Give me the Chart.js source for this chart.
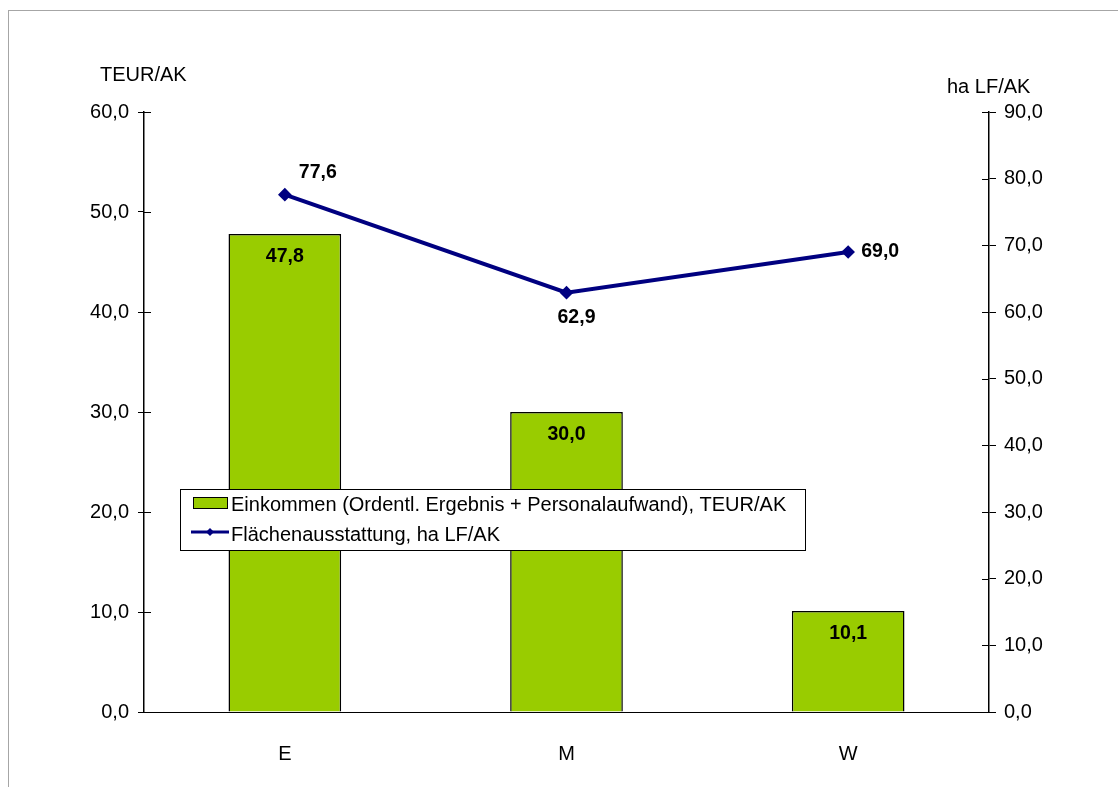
<!doctype html>
<html>
<head>
<meta charset="utf-8">
<title>Einkommen und Flächenausstattung</title>
<script src="https://cdn.jsdelivr.net/npm/chart.js@4/dist/chart.umd.min.js"></script>
<style>
  html, body { margin: 0; padding: 0; background: #fff; overflow: hidden; }
  #wrap { position: relative; width: 1118px; height: 787px; }
</style>
</head>
<body>
<div id="wrap"><canvas id="canvas" width="1118" height="787"></canvas></div>
<script>
// Regionen
var categories = ['E', 'M', 'W'];
// Einkommen in TEUR/AK (linke Achse)
var einkommen = [47.8, 30.0, 10.1];
// Flächenausstattung in ha LF/AK (rechte Achse)
var flaeche = [77.6, 62.9, 69.0];

var labelEinkommen = 'Einkommen (Ordentl. Ergebnis + Personalaufwand), TEUR/AK';
var labelFlaeche = 'Flächenausstattung, ha LF/AK';

// Verschiebung der Wertbeschriftung an der Linie (Pixel)
var lineLabelShift = [[33, -22], [10, 25], [32, 0]];

var FONT = '"Liberation Sans", Arial, sans-serif';
var GREEN = '#99CC00';
var NAVY = '#000080';

function fmt(v) { return v.toFixed(1).replace('.', ','); }

var extras = {
    id: 'extras',
    beforeDraw: function (chart) {
        var ctx = chart.ctx;
        ctx.save();
        ctx.strokeStyle = '#a6a6a6';
        ctx.lineWidth = 1;
        ctx.strokeRect(8.5, 10.5, 2000, 2000);
        ctx.restore();
    },
    afterDraw: function (chart) {
        var ctx = chart.ctx;
        ctx.save();
        // Teilstriche nach innen verlängern (kreuzende Striche)
        ctx.strokeStyle = '#000';
        ctx.lineWidth = 1;
        ['y', 'y2'].forEach(function (id) {
            var s = chart.scales[id];
            var ax = id === 'y' ? s.right : s.left;
            var dir = id === 'y' ? 1 : -1;
            s.ticks.forEach(function (t, i) {
                var py = Math.round(s.getPixelForTick(i)) + 0.5;
                ctx.beginPath();
                ctx.moveTo(ax, py);
                ctx.lineTo(ax + dir * 7, py);
                ctx.stroke();
            });
        });

        // Achsentitel
        ctx.fillStyle = '#000';
        ctx.font = '20px ' + FONT;
        ctx.textBaseline = 'middle';
        ctx.textAlign = 'left';
        ctx.fillText('TEUR/AK', 100, 75);
        ctx.fillText('ha LF/AK', 947, 87);

        // Wertbeschriftungen
        ctx.font = 'bold 19.5px ' + FONT;
        ctx.textAlign = 'center';
        chart.getDatasetMeta(0).data.forEach(function (bar, i) {
            ctx.fillText(fmt(einkommen[i]), bar.x, bar.y + 23);
        });
        chart.getDatasetMeta(1).data.forEach(function (pt, i) {
            ctx.fillText(fmt(flaeche[i]), pt.x + lineLabelShift[i][0], pt.y + lineLabelShift[i][1]);
        });

        // Legende
        var lx = 180, ly = 489, lw = 625, lh = 61;
        ctx.fillStyle = '#fff';
        ctx.fillRect(lx, ly, lw, lh);
        ctx.strokeStyle = '#000';
        ctx.lineWidth = 1;
        ctx.strokeRect(lx + 0.5, ly + 0.5, lw, lh);

        ctx.fillStyle = GREEN;
        ctx.fillRect(193, 497, 35, 12);
        ctx.strokeRect(193.5, 497.5, 34, 11);

        ctx.strokeStyle = NAVY;
        ctx.lineWidth = 3;
        ctx.beginPath();
        ctx.moveTo(191, 532);
        ctx.lineTo(229, 532);
        ctx.stroke();
        ctx.fillStyle = NAVY;
        ctx.beginPath();
        ctx.moveTo(210, 528); ctx.lineTo(214, 532); ctx.lineTo(210, 536); ctx.lineTo(206, 532);
        ctx.closePath();
        ctx.fill();

        ctx.fillStyle = '#000';
        ctx.font = '20px ' + FONT;
        ctx.textAlign = 'left';
        ctx.fillText(labelEinkommen, 231, 505);
        ctx.fillText(labelFlaeche, 231, 535);
        ctx.restore();
    }
};

var tickFont = { family: FONT, size: 20 };

new Chart(document.getElementById('canvas').getContext('2d'), {
    data: {
        labels: categories,
        datasets: [{
            type: 'bar',
            label: labelEinkommen,
            data: einkommen,
            yAxisID: 'y',
            backgroundColor: GREEN,
            borderColor: '#000',
            borderWidth: 1.5,
            barPercentage: 0.4,
            categoryPercentage: 1,
            order: 2
        }, {
            type: 'line',
            label: labelFlaeche,
            data: flaeche,
            yAxisID: 'y2',
            borderColor: NAVY,
            backgroundColor: NAVY,
            borderWidth: 4,
            pointStyle: 'rectRot',
            pointRadius: 4,
            tension: 0,
            fill: false,
            order: 1
        }]
    },
    options: {
        responsive: false,
        animation: false,
        layout: { padding: { top: 112, left: 0, right: 0, bottom: 0 } },
        plugins: { legend: { display: false }, tooltip: { enabled: false } },
        scales: {
            x: {
                grid: { display: false },
                border: { display: true, color: '#000', width: 1 },
                ticks: { color: '#000', font: tickFont, padding: 22 },
                afterFit: function (s) { s.height = 75; }
            },
            y: {
                position: 'left',
                min: 0, max: 60,
                grid: { drawOnChartArea: false, color: '#000', tickLength: 6 },
                border: { display: true, color: '#000', width: 1.5 },
                ticks: { stepSize: 10, color: '#000', font: tickFont, padding: 9, callback: function (v) { return fmt(v); } },
                afterFit: function (s) { s.width = 144; }
            },
            y2: {
                position: 'right',
                min: 0, max: 90,
                grid: { drawOnChartArea: false, color: '#000', tickLength: 7 },
                border: { display: true, color: '#000', width: 1.5 },
                ticks: { stepSize: 10, color: '#000', font: tickFont, padding: 8, callback: function (v) { return fmt(v); } },
                afterFit: function (s) { s.width = 129; }
            }
        }
    },
    plugins: [extras]
});
</script>
</body>
</html>
